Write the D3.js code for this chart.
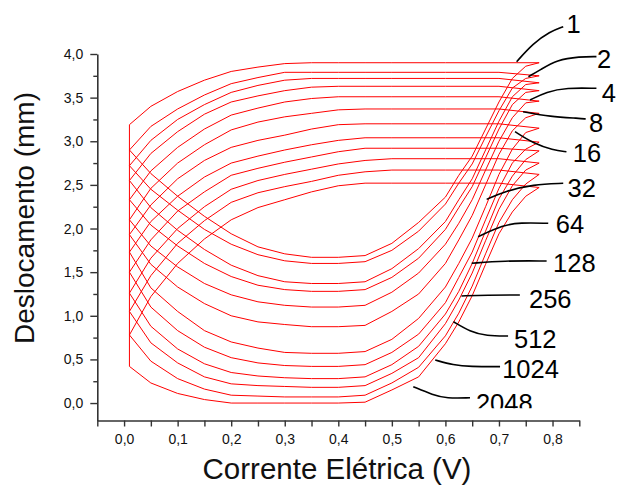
<!DOCTYPE html>
<html>
<head>
<meta charset="utf-8">
<script src="https://cdn.jsdelivr.net/npm/d3@7"></script>
<style>
  body { margin: 0; background: #fff; }
  svg { display: block; font-family: "Liberation Sans", Arial, sans-serif; }
</style>
</head>
<body>
<svg id="chart" width="619" height="485"></svg>
<script>
// Cycle labels, one per loop (top loop first)
const cycles = ['1', '2', '4', '8', '16', '32', '64', '128', '256', '512', '1024', '2048'];

// Current (V) along each loop: bottom branch, rise, then back along the top branch
const loopX = [0.01, 0.05, 0.1, 0.15, 0.2, 0.25, 0.3, 0.35, 0.4, 0.45,
               0.5, 0.55, 0.6, 0.625, 0.65, 0.675, 0.7, 0.725, 0.75, 0.775,
               0.7, 0.6, 0.5, 0.45, 0.4, 0.35, 0.3, 0.25, 0.2, 0.15, 0.1, 0.05, 0.01];

// Displacement (mm) for every loop, same order as loopX
const loop1 = [2.90, 2.63, 2.37, 2.14, 1.94, 1.79, 1.71, 1.67, 1.67, 1.69,
               1.83, 2.07, 2.36, 2.61, 2.83, 3.14, 3.45, 3.72, 3.86, 3.90,
               3.90, 3.90, 3.90, 3.90, 3.90, 3.90, 3.89, 3.85, 3.80, 3.70, 3.57, 3.40, 3.19];
const loop2 = [2.72, 2.45, 2.21, 1.99, 1.82, 1.70, 1.63, 1.60, 1.60, 1.62,
               1.75, 1.97, 2.28, 2.52, 2.74, 3.05, 3.35, 3.61, 3.72, 3.75,
               3.79, 3.79, 3.79, 3.79, 3.79, 3.79, 3.79, 3.73, 3.66, 3.53, 3.37, 3.17, 2.90];
const loop4 = [2.55, 2.24, 1.98, 1.76, 1.58, 1.46, 1.39, 1.37, 1.37, 1.39,
               1.54, 1.77, 2.08, 2.33, 2.57, 2.90, 3.23, 3.51, 3.65, 3.67,
               3.72, 3.72, 3.72, 3.72, 3.72, 3.72, 3.70, 3.64, 3.56, 3.42, 3.25, 3.01, 2.72];
const loop8 = [2.33, 2.04, 1.80, 1.60, 1.45, 1.35, 1.30, 1.28, 1.28, 1.30,
               1.44, 1.66, 1.99, 2.24, 2.48, 2.81, 3.14, 3.42, 3.56, 3.58,
               3.63, 3.63, 3.63, 3.63, 3.63, 3.62, 3.58, 3.52, 3.45, 3.31, 3.11, 2.86, 2.55];
const loop16 = [2.10, 1.80, 1.56, 1.37, 1.24, 1.16, 1.12, 1.10, 1.10, 1.12,
                1.27, 1.49, 1.82, 2.06, 2.33, 2.67, 3.00, 3.27, 3.44, 3.46,
                3.51, 3.51, 3.51, 3.51, 3.51, 3.49, 3.45, 3.38, 3.30, 3.14, 2.93, 2.66, 2.33];
const loop32 = [1.93, 1.59, 1.33, 1.14, 1.00, 0.93, 0.90, 0.875, 0.875, 0.89,
                1.05, 1.25, 1.60, 1.87, 2.15, 2.50, 2.85, 3.12, 3.27, 3.32,
                3.37, 3.37, 3.37, 3.37, 3.36, 3.32, 3.28, 3.22, 3.13, 2.96, 2.75, 2.46, 2.10];
const loop64 = [1.73, 1.32, 1.05, 0.83, 0.70, 0.63, 0.58, 0.57, 0.57, 0.59,
                0.73, 0.97, 1.33, 1.60, 1.89, 2.25, 2.62, 2.91, 3.10, 3.15,
                3.20, 3.20, 3.20, 3.20, 3.19, 3.14, 3.07, 3.01, 2.93, 2.78, 2.57, 2.27, 1.93];
const loop128 = [1.50, 1.10, 0.83, 0.64, 0.52, 0.46, 0.43, 0.42, 0.42, 0.44,
                 0.58, 0.79, 1.15, 1.44, 1.73, 2.10, 2.46, 2.75, 2.91, 2.99,
                 3.04, 3.04, 3.04, 3.04, 3.01, 2.96, 2.90, 2.83, 2.75, 2.59, 2.37, 2.08, 1.73];
const loop256 = [1.26, 0.88, 0.62, 0.45, 0.35, 0.31, 0.29, 0.28, 0.28, 0.30,
                 0.44, 0.65, 1.02, 1.28, 1.60, 1.97, 2.34, 2.60, 2.79, 2.89,
                 2.92, 2.92, 2.92, 2.92, 2.88, 2.82, 2.76, 2.69, 2.61, 2.42, 2.20, 1.87, 1.50];
const loop512 = [1.05, 0.69, 0.46, 0.30, 0.22, 0.20, 0.19, 0.18, 0.18, 0.20,
                 0.34, 0.52, 0.91, 1.18, 1.49, 1.86, 2.22, 2.49, 2.67, 2.75,
                 2.80, 2.80, 2.80, 2.78, 2.74, 2.68, 2.62, 2.55, 2.45, 2.25, 2.00, 1.66, 1.26];
const loop1024 = [0.78, 0.48, 0.28, 0.16, 0.09, 0.08, 0.07, 0.07, 0.07, 0.09,
                  0.23, 0.41, 0.77, 1.03, 1.34, 1.71, 2.07, 2.33, 2.51, 2.62,
                  2.67, 2.67, 2.67, 2.65, 2.61, 2.54, 2.48, 2.41, 2.30, 2.09, 1.83, 1.46, 1.05];
const loop2048 = [0.42, 0.23, 0.11, 0.04, 0.00, 0.00, 0.00, 0.00, 0.00, 0.01,
                  0.15, 0.30, 0.68, 0.93, 1.23, 1.59, 1.94, 2.19, 2.37, 2.47,
                  2.52, 2.52, 2.52, 2.52, 2.49, 2.42, 2.33, 2.24, 2.10, 1.88, 1.60, 1.22, 0.78];

const loops = [loop1, loop2, loop4, loop8, loop16, loop32, loop64, loop128,
               loop256, loop512, loop1024, loop2048];

// Label leader curves (data units): pointer on the loop first, label end last
const leaderX = [
  [0.733, 0.764, 0.795, 0.820],
  [0.755, 0.777, 0.808, 0.851, 0.882],
  [0.758, 0.789, 0.826, 0.882],
  [0.745, 0.795, 0.851, 0.862],
  [0.730, 0.764, 0.801, 0.826],
  [0.677, 0.711, 0.764, 0.820],
  [0.661, 0.708, 0.739, 0.792],
  [0.649, 0.708, 0.789],
  [0.630, 0.677, 0.739],
  [0.615, 0.646, 0.677, 0.717],
  [0.581, 0.615, 0.646, 0.702],
  [0.540, 0.577, 0.602, 0.646]
];
const leaderY = [
  [3.912, 4.123, 4.256, 4.313],
  [3.740, 3.817, 3.932, 3.970, 3.970],
  [3.473, 3.568, 3.614, 3.607],
  [3.339, 3.282, 3.263, 3.255],
  [3.110, 2.977, 2.900, 2.880],
  [2.334, 2.426, 2.506, 2.518],
  [1.906, 2.040, 2.067, 2.060],
  [1.602, 1.631, 1.628],
  [1.227, 1.238, 1.238],
  [0.932, 0.818, 0.768, 0.768],
  [0.493, 0.436, 0.417, 0.417],
  [0.187, 0.092, 0.054, 0.061]
];
// where each label text starts (x) and sits (baseline y)
const labelX = [0.826, 0.883, 0.892, 0.868, 0.838, 0.828, 0.806, 0.801, 0.756, 0.728, 0.706, 0.657];
const labelY = [4.240, 3.839, 3.450, 3.106, 2.762, 2.361, 1.949, 1.502, 1.089, 0.631, 0.287, -0.103];

const xMajor = [0, 0.1, 0.2, 0.3, 0.4, 0.5, 0.6, 0.7, 0.8];
const xMinor = [-0.05, 0.05, 0.15, 0.25, 0.35, 0.45, 0.55, 0.65, 0.75, 0.85];
const yMajor = [0, 0.5, 1, 1.5, 2, 2.5, 3, 3.5, 4];
const yMinor = [0.25, 0.75, 1.25, 1.75, 2.25, 2.75, 3.25, 3.75];

const svg = d3.select('#chart');

const x = d3.scaleLinear().domain([-0.05, 0.85]).range([97.3, 579.3]);
const y = d3.scaleLinear().domain([-0.2, 4.0]).range([420.5, 54]);

const fmt = d => d.toFixed(1).replace('.', ',');

// clip for the bottom label, which is cut in the original
svg.append('defs').append('clipPath').attr('id', 'labelClip')
  .append('rect').attr('x', 0).attr('y', 0).attr('width', 619).attr('height', y(-0.06));

// loops
const loopLine = d3.line()
  .x((d, i) => x(loopX[i]))
  .y(d => y(d))
  .curve(d3.curveLinearClosed);

svg.append('g')
  .selectAll('path')
  .data(loops)
  .join('path')
  .attr('d', loopLine)
  .attr('fill', 'none')
  .attr('stroke', '#ff0000')
  .attr('stroke-width', 1);

// axes
const axisStyle = g => {
  g.select('.domain').attr('stroke', '#333').attr('stroke-width', 1.6);
  g.selectAll('.tick line').attr('stroke', '#333').attr('stroke-width', 1.4);
  g.selectAll('.tick text').attr('fill', '#111').style('font-size', '14px')
    .style('font-family', '"Liberation Sans", Arial, sans-serif');
};

svg.append('g')
  .attr('transform', `translate(0,${y(-0.2)})`)
  .call(d3.axisBottom(x).tickValues(xMinor).tickSize(6).tickSizeOuter(0).tickFormat(''))
  .call(axisStyle);
svg.append('g')
  .attr('transform', `translate(0,${y(-0.2)})`)
  .call(d3.axisBottom(x).tickValues(xMajor).tickSize(6).tickSizeOuter(0).tickPadding(8).tickFormat(fmt))
  .call(axisStyle)
  .call(g => g.select('.domain').remove());

svg.append('g')
  .attr('transform', `translate(${x(-0.05)},0)`)
  .call(d3.axisLeft(y).tickValues(yMinor).tickSize(4).tickSizeOuter(0).tickFormat(''))
  .call(axisStyle);
svg.append('g')
  .attr('transform', `translate(${x(-0.05)},0)`)
  .call(d3.axisLeft(y).tickValues(yMajor).tickSize(7).tickSizeOuter(0).tickPadding(7).tickFormat(fmt))
  .call(axisStyle)
  .call(g => g.select('.domain').remove());

// axis titles
svg.append('text')
  .attr('x', 337).attr('y', 479)
  .attr('text-anchor', 'middle')
  .style('font-size', '29.5px')
  .attr('fill', '#111')
  .text('Corrente Elétrica (V)');

svg.append('text')
  .attr('transform', 'translate(34,218) rotate(-90)')
  .attr('text-anchor', 'middle')
  .style('font-size', '28px')
  .attr('fill', '#111')
  .text('Deslocamento (mm)');

// leaders and cycle labels
const leader = d3.line().curve(d3.curveBasis);
const ann = svg.append('g');
cycles.forEach((c, i) => {
  const pts = leaderX[i].map((v, k) => [x(v), y(leaderY[i][k])]);
  ann.append('path')
    .attr('d', leader(pts))
    .attr('fill', 'none')
    .attr('stroke', '#000')
    .attr('stroke-width', 1.6);
  ann.append('text')
    .attr('x', x(labelX[i]))
    .attr('y', y(labelY[i]))
    .attr('clip-path', c === '2048' ? 'url(#labelClip)' : null)
    .style('font-size', '25.5px')
    .attr('fill', '#000')
    .text(c);
});
</script>
</body>
</html>
